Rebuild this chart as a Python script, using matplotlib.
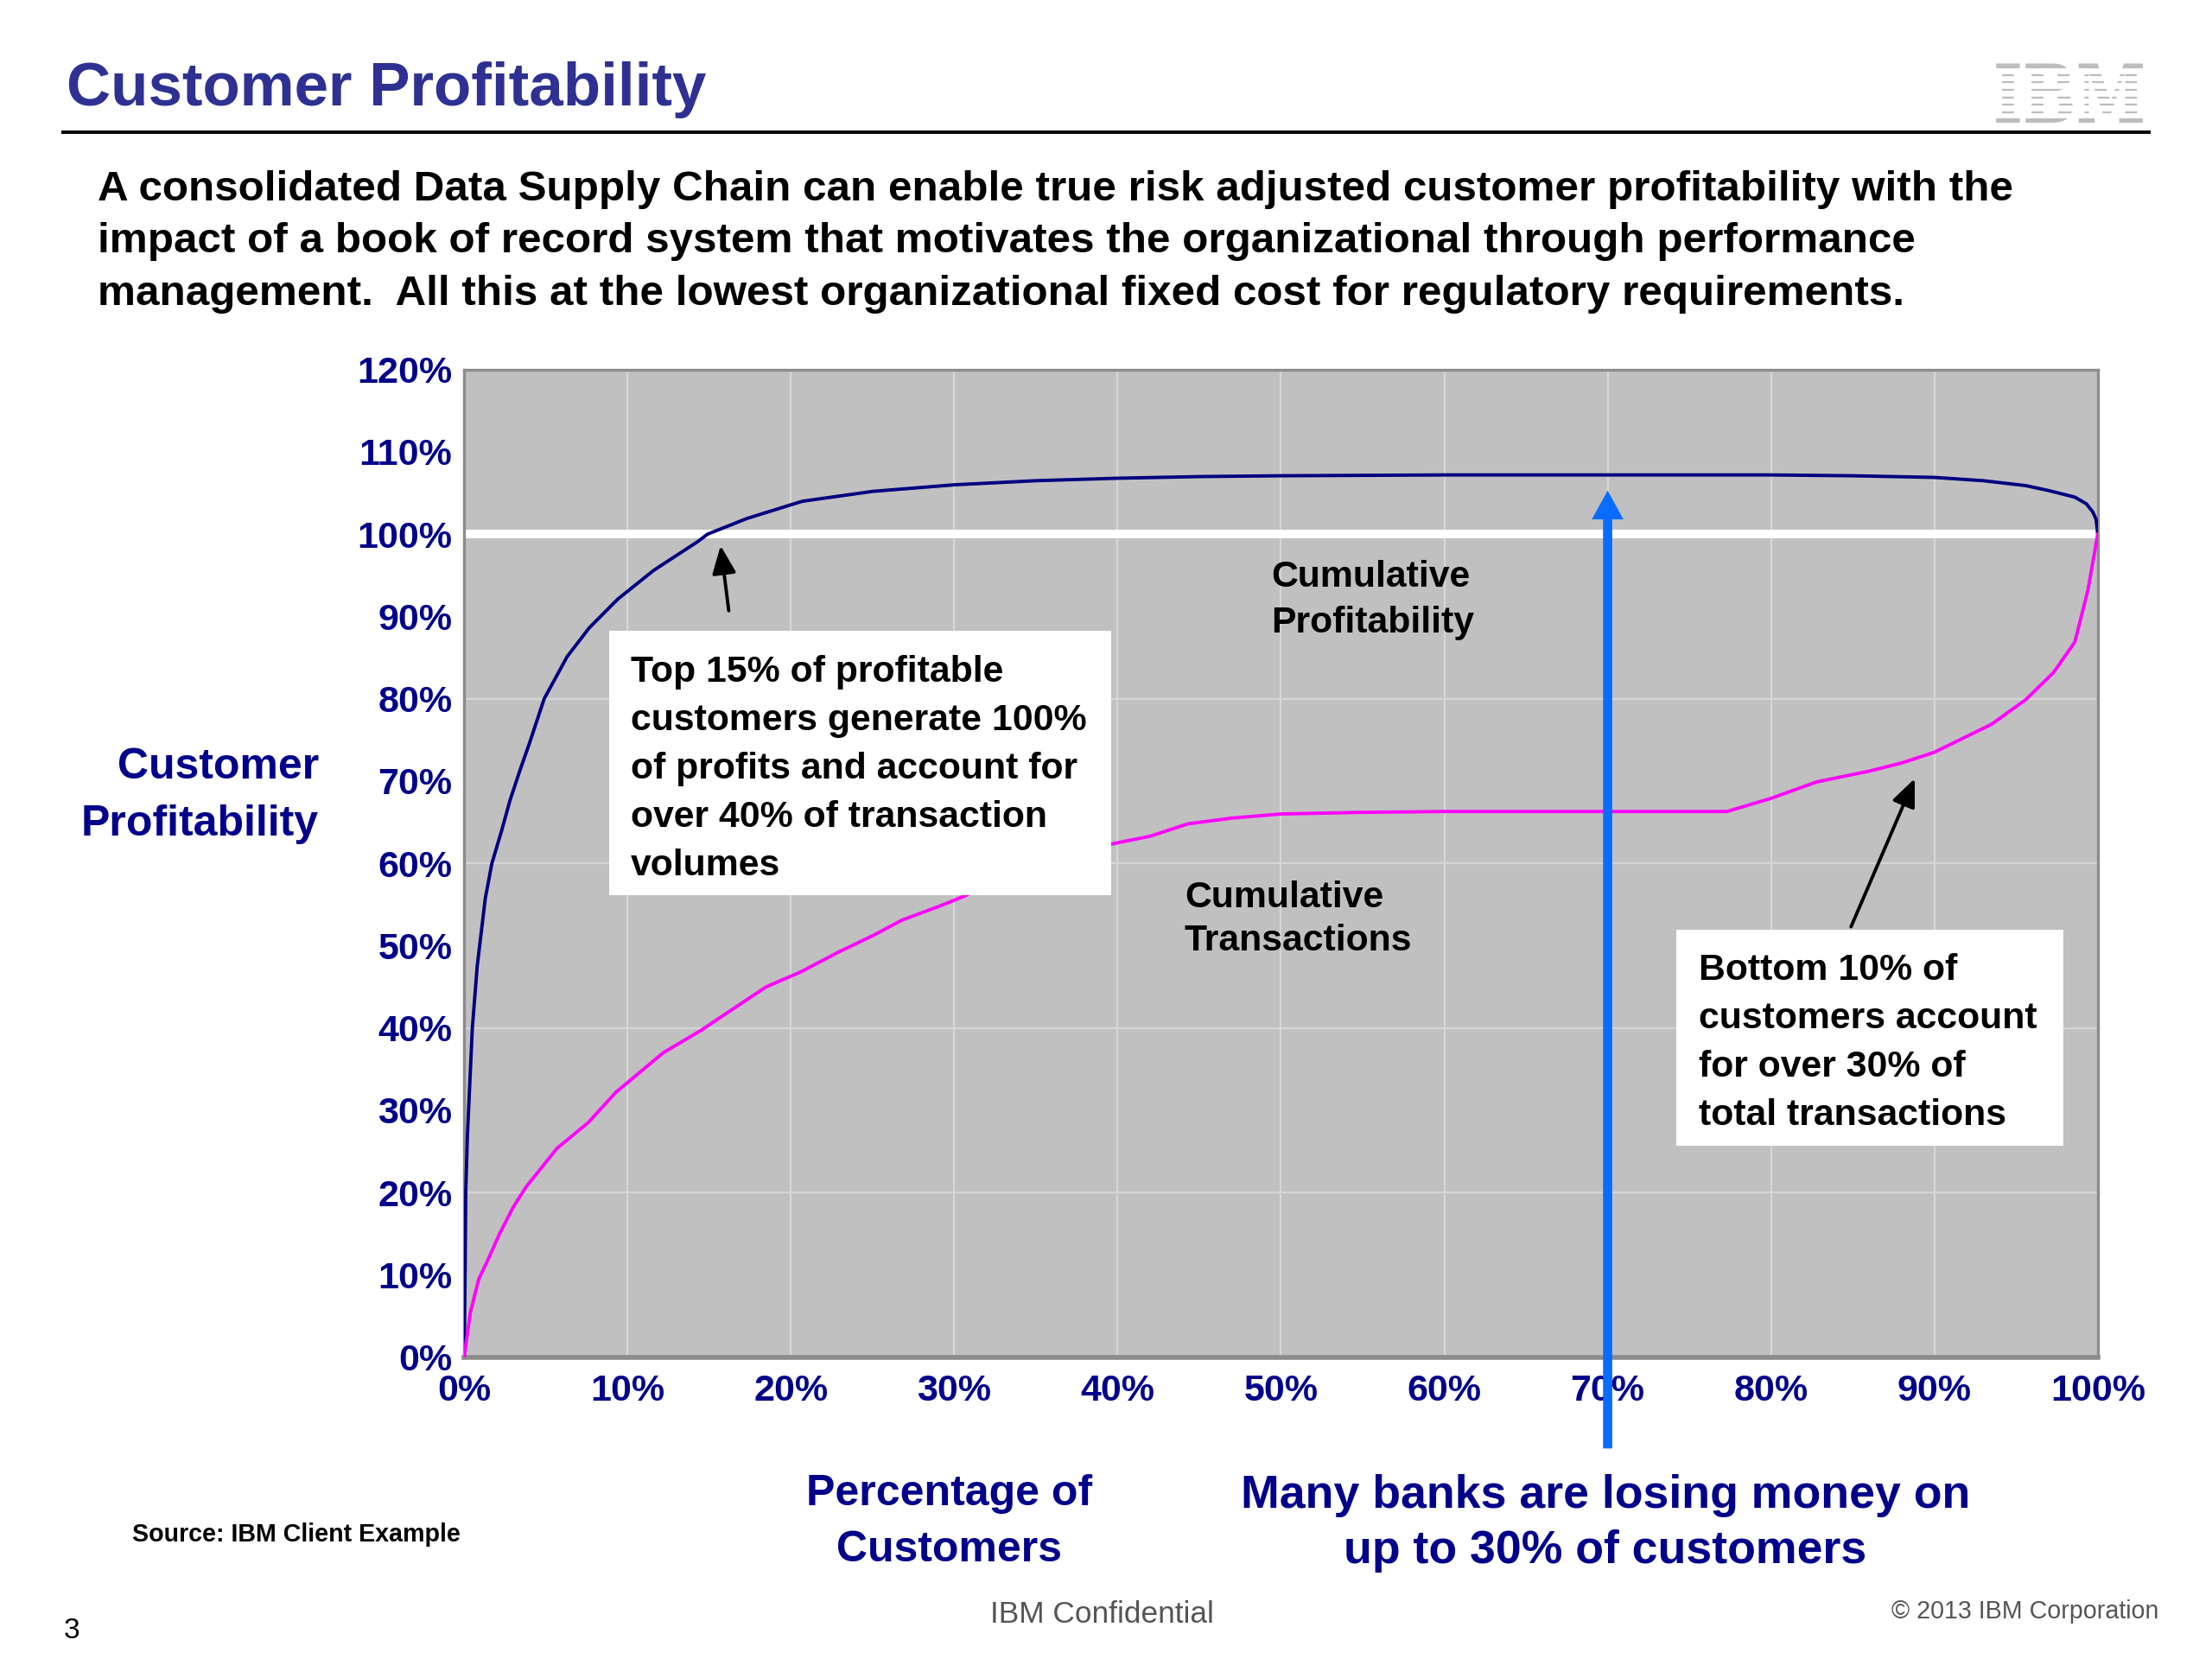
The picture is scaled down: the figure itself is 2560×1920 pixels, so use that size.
import matplotlib
matplotlib.use("Agg")
import matplotlib.pyplot as plt
from matplotlib.patches import Rectangle, PathPatch
from matplotlib.textpath import TextPath
from matplotlib.font_manager import FontProperties
from matplotlib.transforms import Affine2D

plt.rcParams['font.family'] = ['Liberation Sans', 'DejaVu Sans']

# ---------------- data ----------------
profit_x = [0, 0.06, 0.1, 0.2, 0.5, 0.8, 1.3, 1.7, 2.0, 2.3, 2.8, 3.4, 4.0, 4.9, 6.3,
            7.65, 9.4, 11.6, 14.3, 14.9, 17.3, 20.7, 25, 30, 35, 40, 45, 50, 60, 70,
            80, 85, 90, 93, 95.6, 97, 98.6, 99.3, 99.7, 99.9, 100]
profit_y = [0, 10.3, 20, 26.9, 39.9, 47.5, 55.8, 60, 62, 64, 67.6, 71.2, 74.6, 80, 85.1,
            88.6, 92.1, 95.6, 99.1, 100, 101.9, 104, 105.2, 106, 106.5, 106.8, 107, 107.1, 107.2, 107.2,
            107.2, 107.1, 106.9, 106.5, 105.9, 105.3, 104.5, 103.7, 102.7, 101.8, 100]

trans_x = [0, 0.38, 0.9, 1.5, 2.15, 3.0, 3.8, 5.7, 7.6, 9.3, 12.2, 14.5, 16.0, 18.5, 20.6,
           22.9, 25.0, 26.8, 29.1, 30.6, 33, 36, 38, 40, 42, 44.3, 47, 50, 55, 60, 70,
           77.3, 80, 82.8, 86, 88, 90, 93.5, 95.6, 97.3, 98.6, 99.4, 100]
trans_y = [0, 5.4, 9.5, 12, 14.9, 18.2, 20.7, 25.4, 28.5, 32.2, 37, 39.7, 41.7, 45, 46.8,
           49.2, 51.2, 53.1, 54.8, 56.0, 58.3, 60.5, 61.7, 62.5, 63.3, 64.8, 65.5, 66, 66.2, 66.3, 66.3,
           66.3, 67.9, 69.9, 71.2, 72.2, 73.5, 76.9, 79.9, 83.2, 86.9, 93.2, 100]

y_ticks = [0, 10, 20, 30, 40, 50, 60, 70, 80, 90, 100, 110, 120]
x_ticks = [0, 10, 20, 30, 40, 50, 60, 70, 80, 90, 100]
y_tick_labels = [f"{v}%" for v in y_ticks]
x_tick_labels = [f"{v}%" for v in x_ticks]

title = "Customer Profitability"
subtitle_lines = [
    "A consolidated Data Supply Chain can enable true risk adjusted customer profitability with the",
    "impact of a book of record system that motivates the organizational through performance",
    "management.  All this at the lowest organizational fixed cost for regulatory requirements.",
]
box1_lines = ["Top 15% of profitable", "customers generate 100%", "of profits and account for",
              "over 40% of transaction", "volumes"]
box2_lines = ["Bottom 10% of", "customers account", "for over 30% of", "total transactions"]

NAVY = '#000080'
LABEL = '#00008B'
TITLE = '#2E3192'

# ---------------- figure ----------------
W, H = 1568.0, 1176.0
fig = plt.figure(figsize=(12.8, 9.6), dpi=200)
fig.patch.set_facecolor('white')

def fx(x):
    return x / W

def fy(y):
    return 1 - y / H

ax = fig.add_axes([fx(329), fy(962), fx(1487) - fx(329), fy(262) - fy(962)])
ax.set_facecolor('#C0C0C0')
ax.set_xlim(0, 100)
ax.set_ylim(0, 120)

# grid
for v in x_ticks[1:-1]:
    ax.axvline(v, color='#D6D6D6', lw=0.8, zorder=1)
for v in [20, 40, 60, 80]:
    ax.axhline(v, color='#D6D6D6', lw=0.8, zorder=1)
ax.axhline(100, color='white', lw=3.6, zorder=1.5)

ax.plot(profit_x, profit_y, color=NAVY, lw=1.4, zorder=3)
ax.plot(trans_x, trans_y, color='#FF00FF', lw=1.4, zorder=3)

ax.set_xticks(x_ticks)
ax.set_xticklabels(x_tick_labels)
ax.set_yticks(y_ticks)
ax.set_yticklabels(y_tick_labels)
ax.tick_params(axis='both', length=0, labelsize=15.5, labelcolor=LABEL)
ax.tick_params(axis='y', pad=5)
ax.tick_params(axis='x', pad=7)
for lab in ax.get_xticklabels() + ax.get_yticklabels():
    lab.set_fontweight('bold')
for s in ax.spines.values():
    s.set_color('#8C8C8C')
    s.set_linewidth(1.2)
ax.spines['bottom'].set_linewidth(2.0)

# annotation boxes
ax.add_patch(Rectangle((8.9, 56.1), 39.6 - 8.9, 88.3 - 56.1, facecolor='white',
                       edgecolor='none', zorder=5))
ax.add_patch(Rectangle((74.2, 25.7), 97.9 - 74.2, 51.9 - 25.7, facecolor='white',
                       edgecolor='none', zorder=5))

box_fs = 15.4
step = 5.88
for i, line in enumerate(box1_lines):
    ax.text(10.19, 82.1 - i * step, line, fontsize=box_fs, fontweight='bold',
            color='black', va='baseline', ha='left', zorder=6)
for i, line in enumerate(box2_lines):
    ax.text(75.56, 45.8 - i * step, line, fontsize=box_fs, fontweight='bold',
            color='black', va='baseline', ha='left', zorder=6)

ax.text(49.4, 93.6, "Cumulative", fontsize=box_fs, fontweight='bold', va='baseline', zorder=6)
ax.text(49.4, 88.1, "Profitability", fontsize=box_fs, fontweight='bold', va='baseline', zorder=6)
ax.text(44.1, 54.7, "Cumulative", fontsize=box_fs, fontweight='bold', va='baseline', zorder=6)
ax.text(44.1, 49.4, "Transactions", fontsize=box_fs, fontweight='bold', va='baseline', zorder=6)

# black arrows
ax.annotate("", xy=(15.7, 98.6), xytext=(16.2, 90.7),
            arrowprops=dict(arrowstyle='-|>,head_length=0.7,head_width=0.3', color='black',
                            lw=1.4, shrinkA=0, shrinkB=0, mutation_scale=14), zorder=7)
ax.annotate("", xy=(88.8, 70.3), xytext=(84.9, 52.3),
            arrowprops=dict(arrowstyle='-|>,head_length=0.7,head_width=0.3', color='black',
                            lw=1.4, shrinkA=0, shrinkB=0, mutation_scale=14), zorder=7)

# blue arrow
ax.annotate("", xy=(70, 105.3), xytext=(70, -11.1), annotation_clip=False,
            arrowprops=dict(arrowstyle='simple,head_length=1.0,head_width=1.1,tail_width=0.32',
                            mutation_scale=12, fc='#0A6CFF', ec='none',
                            shrinkA=0, shrinkB=0), zorder=8)

# ---------------- page texts ----------------
fig.text(fx(47), fy(75), title, fontsize=25.5, fontweight='bold', color=TITLE,
         va='baseline', ha='left')
fig.add_artist(plt.Line2D([fx(45), fx(1523)], [fy(94), fy(94)], color='black', lw=1.4))

for i, line in enumerate(subtitle_lines):
    fig.text(fx(69), fy(142 + 37 * i), line, fontsize=17.8, fontweight='bold',
             color='black', va='baseline', ha='left')

# IBM logo (striped letters stretched to the logo box)
lax = fig.add_axes([fx(1415), fy(87), fx(1519) - fx(1415), fy(45) - fy(87)])
lax.set_xlim(0, 1)
lax.set_ylim(0, 1)
lax.axis('off')
tp = TextPath((0, 0), "IBM", size=10,
              prop=FontProperties(family='DejaVu Serif', weight='bold'))
ext = tp.get_extents()
tr = Affine2D().translate(-ext.x0, -ext.y0).scale(1.0 / ext.width, 1.0 / ext.height)
lax.add_patch(PathPatch(tr.transform_path(tp), facecolor='#BDBDBD', edgecolor='none',
                        zorder=2))
for k in range(1, 8):
    lax.axhspan(k / 8 - 0.026, k / 8 + 0.026, color='white', zorder=5)

fig.text(fx(226), fy(552), "Customer", fontsize=18, fontweight='bold', color=LABEL,
         ha='right', va='baseline')
fig.text(fx(226), fy(592), "Profitability", fontsize=18, fontweight='bold', color=LABEL,
         ha='right', va='baseline')

fig.text(fx(673), fy(1067), "Percentage of", fontsize=18, fontweight='bold', color=LABEL,
         ha='center', va='baseline')
fig.text(fx(673), fy(1107), "Customers", fontsize=18, fontweight='bold', color=LABEL,
         ha='center', va='baseline')

fig.text(fx(1138), fy(1069), "Many banks are losing money on", fontsize=19.3,
         fontweight='bold', color=LABEL, ha='center', va='baseline')
fig.text(fx(1138), fy(1108), "up to 30% of customers", fontsize=19.3,
         fontweight='bold', color=LABEL, ha='center', va='baseline')

fig.text(fx(94), fy(1093), "Source: IBM Client Example", fontsize=10.3, fontweight='bold',
         color='black', ha='left', va='baseline')
fig.text(fx(45), fy(1161), "3", fontsize=12, color='black', ha='left', va='baseline')
fig.text(fx(781), fy(1150), "IBM Confidential", fontsize=12.7, color='#555555',
         ha='center', va='baseline')
fig.text(fx(1530), fy(1147), "\u00a9 2013 IBM Corporation", fontsize=10.3, color='#555555',
         ha='right', va='baseline')

fig.savefig("out.png", dpi=200, facecolor='white')
